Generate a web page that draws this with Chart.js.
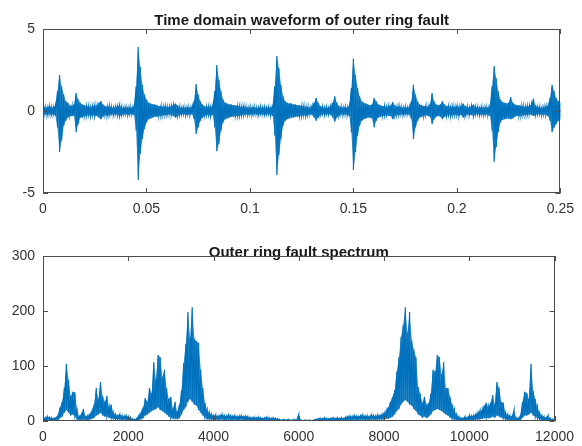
<!DOCTYPE html>
<html>
<head>
<meta charset="utf-8">
<script src="https://cdn.jsdelivr.net/npm/chart.js@4.4.1/dist/chart.umd.min.js"></script>
<style>
  body { margin: 0; background: #fff; width: 582px; height: 446px; overflow: hidden; position: relative; }
  .chart-wrap { position: absolute; left: 0; width: 582px; }
  #wrapWave { top: 0; height: 215px; }
  #wrapSpec { top: 230px; height: 216px; }
</style>
</head>
<body>
<div class="chart-wrap" id="wrapWave"><canvas id="waveChart"></canvas></div>
<div class="chart-wrap" id="wrapSpec"><canvas id="specChart"></canvas></div>
<script>
/* ---- data ---- */

// time waveform: one sample every 1 ms from 0 to 0.25 s, upper / lower envelope
const waveStep = 0.001;
const waveHi = [
  0.2,0.25,0.2,0.3,0.25,0.2,0.35,1.2,2.2,1.5,
  1.0,0.6,0.5,0.35,0.3,0.4,1.1,0.7,0.5,0.4,
  0.35,0.3,0.3,0.25,0.3,0.35,0.3,0.5,0.6,0.4,
  0.3,0.25,0.3,0.25,0.2,0.25,0.3,0.35,0.25,0.2,
  0.25,0.2,0.25,0.2,0.3,1.5,3.9,2.7,1.6,1.0,
  0.7,0.5,0.45,0.4,0.4,0.35,0.3,0.3,0.25,0.3,
  0.25,0.25,0.3,0.35,0.45,0.35,0.25,0.2,0.25,0.2,
  0.25,0.2,0.25,0.6,1.65,1.0,0.6,0.4,0.3,0.25,
  0.3,0.25,0.3,1.2,2.8,1.9,1.2,0.7,0.5,0.45,
  0.4,0.4,0.35,0.35,0.3,0.3,0.25,0.3,0.25,0.2,
  0.25,0.2,0.25,0.2,0.2,0.25,0.2,0.25,0.2,0.25,
  0.2,0.3,1.5,3.35,2.6,1.6,0.9,0.6,0.5,0.45,
  0.45,0.4,0.4,0.35,0.35,0.3,0.3,0.25,0.25,0.2,
  0.3,0.5,0.8,0.5,0.3,0.25,0.2,0.25,0.2,0.3,
  0.5,0.9,0.5,0.3,0.25,0.2,0.25,0.2,0.3,1.4,
  3.2,2.2,1.4,0.9,0.6,0.5,0.45,0.4,0.35,0.4,
  0.8,0.6,0.4,0.35,0.3,0.3,0.25,0.3,0.35,0.55,
  0.35,0.25,0.3,0.25,0.2,0.25,0.2,0.25,0.6,1.6,
  1.0,0.6,0.4,0.35,0.3,0.3,0.25,0.4,1.1,0.6,
  0.4,0.35,0.4,0.6,0.4,0.3,0.3,0.25,0.3,0.25,
  0.3,0.25,0.3,0.45,0.3,0.25,0.2,0.3,0.4,0.25,
  0.25,0.2,0.25,0.2,0.25,0.2,0.3,1.5,2.75,2.0,
  1.2,0.7,0.55,0.5,0.45,0.5,0.85,0.5,0.4,0.35,
  0.35,0.3,0.3,0.25,0.3,0.3,0.4,0.75,0.35,0.25,
  0.25,0.2,0.25,0.3,0.3,0.8,1.6,1.2,0.8,0.6,
  0.5
];
const waveLo = [
  -0.2,-0.2,-0.25,-0.2,-0.25,-0.2,-0.3,-1.0,-2.5,-1.8,
  -0.9,-0.6,-0.4,-0.3,-0.3,-0.3,-1.3,-0.8,-0.4,-0.4,
  -0.3,-0.3,-0.25,-0.3,-0.25,-0.3,-0.3,-0.4,-0.5,-0.35,
  -0.25,-0.3,-0.25,-0.2,-0.25,-0.2,-0.25,-0.3,-0.25,-0.2,
  -0.2,-0.25,-0.2,-0.2,-0.25,-1.2,-4.2,-2.6,-1.7,-1.1,
  -0.7,-0.5,-0.45,-0.4,-0.35,-0.35,-0.3,-0.3,-0.25,-0.25,
  -0.25,-0.2,-0.25,-0.3,-0.4,-0.3,-0.25,-0.2,-0.2,-0.25,
  -0.2,-0.25,-0.2,-0.5,-1.4,-1.0,-0.6,-0.4,-0.3,-0.25,
  -0.25,-0.3,-0.25,-1.0,-2.45,-2.0,-1.2,-0.7,-0.5,-0.45,
  -0.4,-0.35,-0.35,-0.3,-0.3,-0.3,-0.25,-0.25,-0.2,-0.25,
  -0.2,-0.25,-0.2,-0.2,-0.25,-0.2,-0.2,-0.25,-0.2,-0.2,
  -0.25,-0.3,-1.5,-3.9,-2.7,-1.7,-0.9,-0.6,-0.5,-0.45,
  -0.4,-0.4,-0.35,-0.35,-0.3,-0.3,-0.25,-0.3,-0.25,-0.2,
  -0.25,-0.4,-0.6,-0.4,-0.25,-0.2,-0.25,-0.2,-0.2,-0.25,
  -0.4,-0.65,-0.4,-0.3,-0.2,-0.25,-0.2,-0.25,-0.3,-1.3,
  -3.6,-2.5,-1.5,-0.9,-0.6,-0.5,-0.45,-0.4,-0.4,-0.45,
  -1.0,-0.6,-0.4,-0.35,-0.3,-0.3,-0.25,-0.3,-0.3,-0.5,
  -0.3,-0.25,-0.25,-0.2,-0.25,-0.2,-0.2,-0.25,-0.5,-1.7,
  -1.0,-0.6,-0.4,-0.35,-0.3,-0.25,-0.3,-0.35,-0.8,-0.5,
  -0.35,-0.3,-0.35,-0.5,-0.35,-0.3,-0.25,-0.3,-0.25,-0.25,
  -0.25,-0.3,-0.25,-0.4,-0.3,-0.2,-0.25,-0.25,-0.3,-0.2,
  -0.2,-0.25,-0.2,-0.25,-0.2,-0.25,-0.3,-1.2,-3.1,-2.2,
  -1.3,-0.7,-0.55,-0.5,-0.45,-0.45,-0.5,-0.45,-0.35,-0.3,
  -0.3,-0.3,-0.25,-0.25,-0.25,-0.2,-0.25,-0.3,-0.25,-0.2,
  -0.2,-0.25,-0.2,-0.25,-0.3,-0.6,-1.3,-1.0,-0.8,-0.6,
  -0.5
];
const waveXTicks = [0, 0.05, 0.1, 0.15, 0.2, 0.25];
const waveYTicks = [-5, 0, 5];

// spectrum: one sample every 50 Hz from 0 to 12000 Hz, upper / lower level
const specStep = 50;
const specHi = [
  5,6,8,7,6,5,6,10,25,35,
  60,104,75,45,53,52,20,8,12,22,
  8,10,12,18,30,60,40,71,45,35,
  46,25,30,15,12,10,12,10,9,10,
  8,7,4,3,5,10,15,25,42,35,
  60,50,107,75,120,116,80,93,60,40,
  44,20,35,15,30,56,105,140,198,152,
  207,150,145,142,93,60,33,20,15,12,
  10,11,9,10,12,10,9,11,10,9,
  10,8,9,10,8,9,8,7,6,7,
  6,7,6,5,6,7,6,5,6,5,
  4,3,2,3,2,3,2,2,3,2,
  12,2,1,2,1,2,1,2,3,4,
  5,4,6,5,4,5,6,5,6,5,
  6,5,7,8,9,8,10,9,8,10,
  11,9,10,8,11,10,9,11,10,12,
  14,18,25,35,44,56,90,116,153,175,
  207,160,198,147,130,116,62,50,33,44,
  30,33,50,93,90,120,116,85,107,60,
  60,44,30,20,12,8,6,5,8,6,
  10,9,10,12,15,18,20,28,33,25,
  33,47,30,71,60,35,33,15,12,10,
  8,20,6,5,10,35,53,51,40,104,
  55,40,25,15,10,8,6,10,5,3,
  3
];
const specLo = [
  0,1,2,1,2,1,2,2,5,8,
  15,20,15,10,12,8,3,2,2,3,
  2,2,3,4,6,10,12,15,10,8,
  8,6,5,4,3,3,3,2,3,2,
  2,1,1,0,1,2,3,5,10,12,
  15,18,20,22,25,20,18,15,12,8,
  6,4,5,3,5,12,20,25,35,40,
  35,30,28,20,15,10,6,4,3,3,
  2,3,2,3,3,2,2,3,2,2,
  3,2,2,3,2,2,2,1,1,2,
  1,2,1,1,1,2,1,1,1,1,
  1,0,0,1,0,1,0,0,1,0,
  0,0,0,1,0,0,0,1,1,1,
  1,1,2,1,1,1,2,1,2,1,
  2,1,2,2,2,2,3,2,2,3,
  3,2,3,2,3,3,2,3,3,3,
  3,4,4,6,8,12,18,22,30,35,
  38,35,30,28,22,18,12,10,6,8,
  5,8,12,18,20,22,20,18,15,12,
  10,6,4,3,2,1,1,0,1,1,
  2,2,2,3,3,4,4,5,6,5,
  6,8,6,10,8,6,5,3,2,2,
  1,2,1,0,2,6,10,10,12,15,
  10,8,5,3,2,1,1,2,1,0,
  0
];
const specXTicks = [0, 2000, 4000, 6000, 8000, 10000, 12000];
const specYTicks = [0, 100, 200, 300];

/* ---- helpers ---- */

// dense signal: go up to the upper level and down to the lower level at every sample
function zigzag(hi, lo, step) {
  const pts = [];
  for (let i = 0; i < hi.length; i++) {
    pts.push({ x: i * step, y: hi[i] });
    pts.push({ x: i * step, y: lo[i] });
  }
  return pts;
}
const asPoints = (vals, step) => vals.map((v, i) => ({ x: i * step, y: v }));

const FONT = 'Arial, "Liberation Sans", Helvetica, sans-serif';
const LINE = '#0072BD';
const BAND = 'rgba(0,114,189,0.82)';
const AXIS = '#4d4d4d';

// MATLAB-style box with inward tick marks
const boxPlugin = {
  id: 'box',
  afterDraw(chart) {
    const { ctx, chartArea: a, scales: { x, y } } = chart;
    ctx.save();
    ctx.strokeStyle = AXIS;
    ctx.lineWidth = 1;
    ctx.strokeRect(Math.round(a.left) + 0.5, Math.round(a.top) + 0.5,
                   Math.round(a.right - a.left) - 1, Math.round(a.bottom - a.top) - 1);
    ctx.beginPath();
    x.ticks.forEach(t => {
      const px = Math.round(x.getPixelForValue(t.value)) + 0.5;
      ctx.moveTo(px, a.bottom); ctx.lineTo(px, a.bottom - 5);
      ctx.moveTo(px, a.top);    ctx.lineTo(px, a.top + 5);
    });
    y.ticks.forEach(t => {
      const py = Math.round(y.getPixelForValue(t.value)) + 0.5;
      ctx.moveTo(a.left, py);  ctx.lineTo(a.left + 5, py);
      ctx.moveTo(a.right, py); ctx.lineTo(a.right - 5, py);
    });
    ctx.stroke();
    ctx.restore();
  }
};

function makeChart(id, title, titlePad, hi, lo, step, xTicks, yTicks, xAxisH, rightPad) {
  return new Chart(document.getElementById(id), {
    type: 'line',
    data: {
      datasets: [
        // shaded band between the upper and lower levels
        { data: asPoints(hi, step), borderWidth: 0, pointRadius: 0, fill: '+1', backgroundColor: BAND },
        { data: asPoints(lo, step), borderWidth: 0, pointRadius: 0, fill: false },
        // the signal trace itself
        { data: zigzag(hi, lo, step), borderColor: LINE, borderWidth: 1.2, pointRadius: 0, tension: 0, fill: false }
      ]
    },
    options: {
      responsive: true,
      maintainAspectRatio: false,
      animation: false,
      events: [],
      layout: { padding: { left: 0, right: rightPad, top: 0, bottom: 0 } },
      plugins: {
        legend: { display: false },
        tooltip: { enabled: false },
        title: {
          display: true,
          fullSize: false,
          text: title,
          color: '#1a1a1a',
          font: { family: FONT, size: 15, weight: 'bold' },
          padding: titlePad
        }
      },
      scales: {
        x: {
          type: 'linear',
          min: xTicks[0],
          max: xTicks[xTicks.length - 1],
          grid: { display: false, drawTicks: false },
          border: { display: false },
          afterBuildTicks: s => { s.ticks = xTicks.map(v => ({ value: v })); },
          afterFit: s => { s.height = xAxisH; },
          ticks: { color: '#333', font: { family: FONT, size: 14 }, padding: 8, maxRotation: 0,
                   callback: v => String(v) }
        },
        y: {
          type: 'linear',
          min: yTicks[0],
          max: yTicks[yTicks.length - 1],
          grid: { display: false, drawTicks: false },
          border: { display: false },
          afterBuildTicks: s => { s.ticks = yTicks.map(v => ({ value: v })); },
          afterFit: s => { s.width = 43; },
          ticks: { color: '#333', font: { family: FONT, size: 14 }, padding: 8,
                   callback: v => String(v) }
        }
      }
    },
    plugins: [boxPlugin]
  });
}

makeChart('waveChart', 'Time domain waveform of outer ring fault', { top: 12, bottom: -1 },
          waveHi, waveLo, waveStep, waveXTicks, waveYTicks, 22, 19);
makeChart('specChart', 'Outer ring fault spectrum', { top: 14, bottom: -6 },
          specHi, specLo, specStep, specXTicks, specYTicks, 25, 22);
</script>
</body>
</html>
